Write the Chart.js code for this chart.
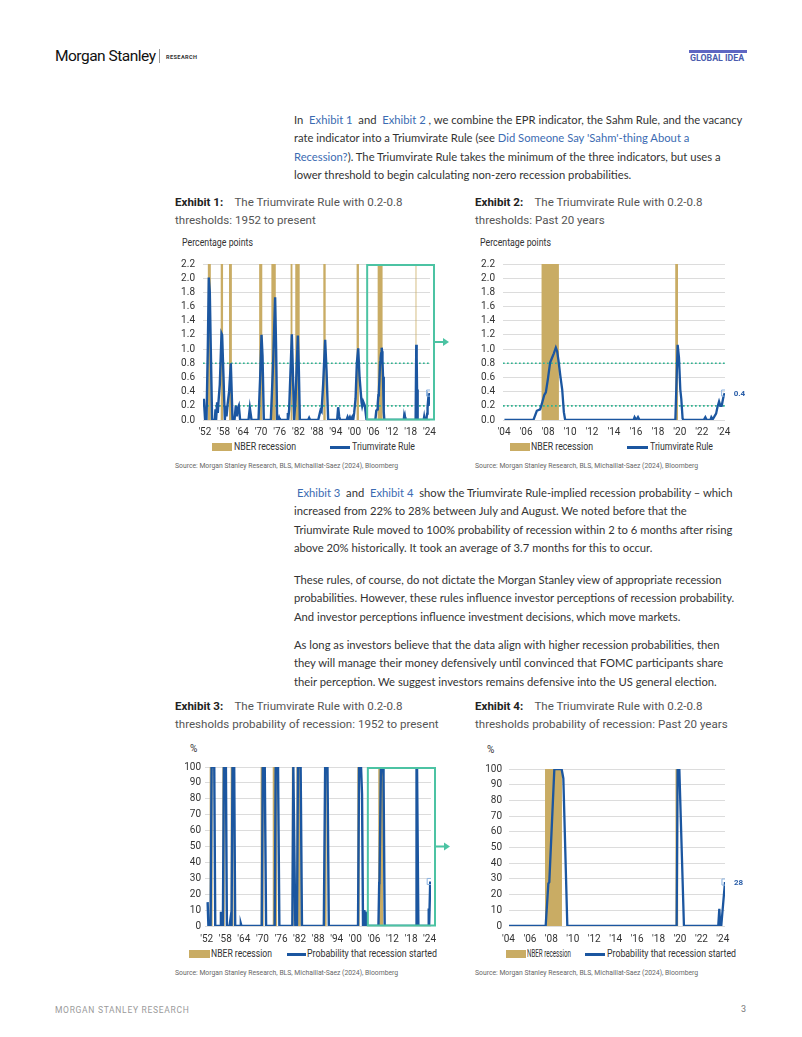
<!DOCTYPE html>
<html>
<head>
<meta charset="utf-8">
<script src="https://cdn.jsdelivr.net/npm/chart.js@4.4.1/dist/chart.umd.min.js"></script>
<style>
  body { margin: 0; width: 802px; height: 1037px; position: relative; overflow: hidden; background: #fff; color: #333; font-family: Lato, sans-serif; }
  .abs { position: absolute; white-space: nowrap; }
  .para { position: absolute; left: 294px; white-space: nowrap; font-family: Lato, sans-serif; font-size: 12px; line-height: 18.4px; color: #333; }
  .para a { color: #3b6bb2; text-decoration: none; }
  .title { position: absolute; white-space: nowrap; font-family: Roboto, sans-serif; font-size: 13px; line-height: 17.5px; color: #555; }
  .title b { color: #222; font-weight: 700; }
  .src { position: absolute; white-space: nowrap; font-family: Roboto, sans-serif; font-size: 6.8px; color: #666; }
  .ax { position: absolute; white-space: nowrap; font-family: Roboto, sans-serif; font-size: 10px; line-height: 12px; color: #333; transform-origin: 0 50%; }
  .key { position: absolute; }
  canvas { position: absolute; }
</style>
</head>
<body>

<!-- header -->
<div class="abs" style="left:55px; top:47px; font-family:Roboto; font-size:15.5px; letter-spacing:-0.5px; color:#111;">Morgan Stanley</div>
<div class="abs" style="left:159px; top:49px; width:1px; height:14px; background:#999;"></div>
<div class="abs" style="left:166px; top:54px; font-family:Roboto; font-size:5.6px; font-weight:700; letter-spacing:0.4px; color:#333;">RESEARCH</div>
<div class="abs" style="left:689px; top:50px; width:58px; height:2.5px; background:#5e66c2;"></div>
<div class="abs" style="left:690px; top:53px; font-family:Roboto; font-size:8.8px; font-weight:700; color:#4a5cae;">GLOBAL IDEA</div>

<!-- body text -->
<div class="para" style="top:110.8px;"><span id="refLine">In&nbsp; <a>Exhibit 1</a>&nbsp; and&nbsp; <a>Exhibit 2</a>&nbsp;, we combine the EPR indicator, the Sahm Rule, and the vacancy</span><br>rate indicator into a Triumvirate Rule (see <a>Did Someone Say 'Sahm'-thing About a</a><br><a>Recession?</a>). The Triumvirate Rule takes the minimum of the three indicators, but uses a<br>lower threshold to begin calculating non-zero recession probabilities.</div>

<div class="title" style="left:175px; top:194px;"><b>Exhibit 1:</b>&nbsp;&nbsp;&nbsp; The Triumvirate Rule with 0.2-0.8<br>thresholds: 1952 to present</div>
<div class="title" style="left:475px; top:194px;"><b>Exhibit 2:</b>&nbsp;&nbsp;&nbsp; The Triumvirate Rule with 0.2-0.8<br>thresholds: Past 20 years</div>

<div class="ax" data-w="71" style="left:182px; top:237px;">Percentage points</div>
<div class="ax" data-w="71" style="left:480px; top:237px;">Percentage points</div>

<canvas id="ruleLong" width="277" height="190" style="left:175px; top:250px;"></canvas>
<canvas id="ruleShort" width="277" height="190" style="left:475px; top:250px;"></canvas>

<div class="key" style="left:212px; top:443px; width:20px; height:8px; background:#c9ac64;"></div>
<div class="ax" data-w="62" style="left:234px; top:441px;">NBER recession</div>
<div class="key" style="left:330px; top:446px; width:20px; height:2.5px; background:#1b56a0;"></div>
<div class="ax" data-w="63" style="left:352px; top:441px;">Triumvirate Rule</div>

<div class="key" style="left:510px; top:443px; width:20px; height:8px; background:#c9ac64;"></div>
<div class="ax" data-w="62" style="left:531px; top:441px;">NBER recession</div>
<div class="key" style="left:627px; top:446px; width:21px; height:2.5px; background:#1b56a0;"></div>
<div class="ax" data-w="63" style="left:650px; top:441px;">Triumvirate Rule</div>

<div class="src" style="left:175px; top:462px;">Source: Morgan Stanley Research, BLS, Michaillat-Saez (2024), Bloomberg</div>
<div class="src" style="left:475px; top:462px;">Source: Morgan Stanley Research, BLS, Michaillat-Saez (2024), Bloomberg</div>

<div class="para" style="top:483.8px;">&nbsp;<a>Exhibit 3</a>&nbsp; and&nbsp; <a>Exhibit 4</a>&nbsp; show the Triumvirate Rule-implied recession probability – which<br>increased from 22% to 28% between July and August. We noted before that the<br>Triumvirate Rule moved to 100% probability of recession within 2 to 6 months after rising<br>above 20% historically. It took an average of 3.7 months for this to occur.</div>

<div class="para" style="top:570.8px;">These rules, of course, do not dictate the Morgan Stanley view of appropriate recession<br>probabilities. However, these rules influence investor perceptions of recession probability.<br>And investor perceptions influence investment decisions, which move markets.</div>

<div class="para" style="top:635.8px;">As long as investors believe that the data align with higher recession probabilities, then<br>they will manage their money defensively until convinced that FOMC participants share<br>their perception. We suggest investors remains defensive into the US general election.</div>

<div class="title" style="left:175px; top:698px;"><b>Exhibit 3:</b>&nbsp;&nbsp;&nbsp; The Triumvirate Rule with 0.2-0.8<br><span id="refTitle">thresholds probability of recession: 1952 to present</span></div>
<div class="title" style="left:475px; top:698px;"><b>Exhibit 4:</b>&nbsp;&nbsp;&nbsp; The Triumvirate Rule with 0.2-0.8<br>thresholds probability of recession: Past 20 years</div>

<div class="ax" style="left:190px; top:743px;">%</div>
<div class="ax" style="left:487px; top:744px;">%</div>

<canvas id="probLong" width="277" height="189" style="left:175px; top:757px;"></canvas>
<canvas id="probShort" width="277" height="190" style="left:475px; top:756px;"></canvas>

<div class="key" style="left:189px; top:950px; width:21px; height:8px; background:#c9ac64;"></div>
<div class="ax" data-w="61" style="left:211px; top:948px;">NBER recession</div>
<div class="key" style="left:287px; top:953px; width:19px; height:2.5px; background:#1b56a0;"></div>
<div class="ax" data-w="130" style="left:307px; top:948px;">Probability that recession started</div>

<div class="key" style="left:506px; top:950px; width:20px; height:8px; background:#c9ac64;"></div>
<div class="ax" data-w="44" style="left:527px; top:948px;">NBER recession</div>
<div class="key" style="left:585px; top:953px; width:20px; height:2.5px; background:#1b56a0;"></div>
<div class="ax" data-w="129" style="left:607px; top:948px;">Probability that recession started</div>

<div class="src" style="left:175px; top:969px;">Source: Morgan Stanley Research, BLS, Michaillat-Saez (2024), Bloomberg</div>
<div class="src" style="left:475px; top:969px;">Source: Morgan Stanley Research, BLS, Michaillat-Saez (2024), Bloomberg</div>

<!-- footer -->
<div class="abs" style="left:55px; top:1005px; font-family:Roboto; font-size:8.5px; letter-spacing:0.7px; color:#9a9a9a;">MORGAN STANLEY RESEARCH</div>
<div class="abs" style="left:741px; top:1004px; font-family:Roboto; font-size:9px; color:#777;">3</div>

<script>
// NBER recessions, [start, end] in decimal years
const RECESSIONS = [
  [1953.50, 1954.46], [1957.63, 1958.38], [1960.29, 1961.21], [1969.96, 1970.96],
  [1973.88, 1975.29], [1980.04, 1980.63], [1981.54, 1982.96], [1990.54, 1991.29],
  [2001.21, 2001.96], [2007.96, 2009.54], [2020.13, 2020.38]
];

// Triumvirate Rule, percentage points: [year, value]
const RULE_TO_2004 = [
  [1952.21, 0.30], [1952.63, 0], [1953.07, 0], [1953.49, 1.0], [1953.81, 2.01], [1954.13, 1.8],
  [1954.45, 1.0], [1954.87, 0], [1955.74, 0], [1955.96, 0.15], [1956.15, 0], [1956.48, 0.25],
  [1956.70, 0.1], [1956.92, 0.26], [1957.34, 0.5], [1957.89, 1.22], [1958.08, 1.2], [1958.53, 0.6],
  [1958.95, 0], [1959.27, 0.2], [1959.49, 0.05], [1959.81, 0.21], [1960.33, 0.4], [1960.87, 0.8],
  [1961.42, 0], [1962.06, 0], [1962.47, 0.2], [1962.80, 0.05], [1963.02, 0.15], [1963.44, 0.2],
  [1963.86, 0], [1966.55, 0], [1966.97, 0.17], [1967.51, 0], [1969.75, 0], [1970.28, 0.6],
  [1970.72, 1.2], [1971.04, 0.9], [1971.46, 0], [1973.70, 0], [1974.44, 0.8], [1975.08, 1.73],
  [1975.40, 1.0], [1975.72, 0], [1976.17, 0], [1976.36, 0.03], [1976.59, 0], [1978.93, 0],
  [1979.16, 0.1], [1979.38, 0.05], [1979.58, 0.15], [1980.44, 1.21], [1980.76, 0.7], [1981.18, 0],
  [1981.63, 0.3], [1982.37, 1.19], [1982.69, 0.7], [1983.01, 0], [1985.67, 0], [1985.99, 0.03],
  [1986.31, 0], [1988.90, 0], [1989.42, 0.1], [1989.65, 0.14], [1989.97, 0.12], [1990.48, 0.5],
  [1991.12, 1.13], [1991.56, 0.7], [1992.09, 0], [1994.97, 0], [1995.30, 0.18], [1995.62, 0.05],
  [1995.94, 0], [1998.00, 0], [1998.31, 0.04], [1998.63, 0], [1999.05, 0.04], [1999.37, 0],
  [1999.79, 0.04], [2000.11, 0], [2000.43, 0.1], [2000.88, 0.3], [2001.29, 0.8], [2001.72, 1.01],
  [2002.16, 0.6], [2002.80, 0.25], [2003.00, 0.2], [2003.31, 0.26], [2003.86, 0.2], [2004.40, 0]
];
const RULE_SINCE_2004 = [
  [2004.58, 0], [2007.22, 0], [2007.53, 0.13], [2007.83, 0.15], [2007.99, 0.23], [2008.20, 0.35],
  [2008.35, 0.39], [2008.53, 0.57], [2008.74, 0.81], [2008.90, 0.87], [2009.08, 0.94], [2009.26, 1.02],
  [2009.38, 0.97], [2009.50, 0.84], [2009.68, 0.61], [2009.84, 0.43], [2009.99, 0.11], [2010.11, 0],
  [2016.34, 0], [2016.43, 0.04], [2016.58, 0], [2016.74, 0.04], [2016.88, 0], [2020.14, 0],
  [2020.35, 1.06], [2020.47, 0.88], [2020.59, 0.43], [2020.68, 0.30], [2020.80, 0.02], [2020.89, 0],
  [2022.72, 0], [2022.87, 0.04], [2023.00, 0], [2023.33, 0], [2023.42, 0.04], [2023.54, 0.01],
  [2023.66, 0.04], [2023.85, 0.09], [2023.97, 0.18], [2024.12, 0.26], [2024.24, 0.2], [2024.36, 0.2],
  [2024.51, 0.32], [2024.63, 0.38]
];

// Probability that recession started, %: [year, value]
const PROB_TO_2004 = [
  [1952.85, 15], [1953.10, 0], [1953.81, 0], [1954.13, 100], [1954.99, 100], [1955.31, 0],
  [1956.92, 0], [1957.14, 9], [1957.46, 0], [1957.78, 0], [1958.10, 100], [1958.75, 100],
  [1959.07, 0], [1959.93, 0], [1960.14, 3], [1960.25, 0], [1960.36, 2], [1960.57, 0],
  [1960.89, 100], [1961.43, 100], [1961.75, 0], [1963.36, 0], [1963.58, 1.5], [1963.79, 0],
  [1970.34, 0], [1970.66, 100], [1971.30, 100], [1971.73, 0], [1974.52, 0], [1974.84, 100],
  [1975.59, 100], [1976.02, 0], [1980.21, 0], [1980.53, 100], [1980.74, 100], [1981.17, 0],
  [1981.71, 0], [1982.03, 100], [1982.89, 100], [1983.32, 0], [1990.38, 0], [1990.81, 100],
  [1991.56, 100], [1991.99, 0], [2001.43, 0], [2001.76, 100], [2002.40, 100], [2002.72, 83],
  [2003.04, 0], [2003.37, 0], [2003.47, 10], [2003.69, 2], [2003.90, 9], [2004.22, 0]
];
const PROB_SINCE_2004 = [
  [2004.60, 0], [2008.02, 0], [2008.27, 27], [2008.36, 28], [2008.83, 100], [2009.51, 100],
  [2009.67, 94], [2010.04, 0], [2020.24, 0], [2020.33, 100], [2020.49, 100], [2020.92, 0],
  [2024.12, 0], [2024.22, 11], [2024.31, 0], [2024.40, 0], [2024.75, 28]
];

const THRESHOLDS = [0.2, 0.8];
const LONG_TICKS = [1952, 1958, 1964, 1970, 1976, 1982, 1988, 1994, 2000, 2006, 2012, 2018, 2024];
const SHORT_TICKS = [2004, 2006, 2008, 2010, 2012, 2014, 2016, 2018, 2020, 2022, 2024];
const RULE_Y_TICKS = [0, 0.2, 0.4, 0.6, 0.8, 1.0, 1.2, 1.4, 1.6, 1.8, 2.0, 2.2];
const PROB_Y_TICKS = [0, 10, 20, 30, 40, 50, 60, 70, 80, 90, 100];
const ZOOM_FROM = 2004.6;

const BLUE = '#1b56a0';
const TAN = '#c9ac64';
const TEAL = '#4cc3a3';
const DOTS = '#2fb391';
const GRID = '#dcdcdc';
const TICK_FONT = { family: 'Roboto, sans-serif', size: 10 };

// fit the body copy, titles and small labels to the widths on the page
(function fitText() {
  const body = document.getElementById('refLine').getBoundingClientRect().width;
  const fs = 12 * 449 / body;
  document.querySelectorAll('.para').forEach(p => p.style.fontSize = fs + 'px');
  const t = document.getElementById('refTitle').getBoundingClientRect().width;
  const ts = 13 * 264 / t;
  document.querySelectorAll('.title').forEach(p => p.style.fontSize = ts + 'px');
  document.querySelectorAll('.ax[data-w]').forEach(el => {
    const w = el.getBoundingClientRect().width;
    el.style.transform = 'scaleX(' + (Number(el.dataset.w) / w) + ')';
  });
})();

const toPoints = (rows) => rows.map(([x, y]) => ({ x: x, y: y }));

function bandsPlugin(ranges) {
    return {
        id: 'bands',
        beforeDatasetsDraw(chart) {
            const { ctx, chartArea, scales: { x } } = chart;
            ctx.save();
            ctx.fillStyle = TAN;
            ranges.forEach(([a, b]) => {
                const l = Math.max(x.getPixelForValue(a), chartArea.left);
                const r = Math.min(x.getPixelForValue(b), chartArea.right);
                if (r > l) ctx.fillRect(l, chartArea.top, r - l, chartArea.bottom - chartArea.top);
            });
            ctx.restore();
        }
    };
}

const zoomBoxPlugin = {
    id: 'zoomBox',
    afterDatasetsDraw(chart) {
        const { ctx, chartArea, scales: { x } } = chart;
        const l = x.getPixelForValue(ZOOM_FROM);
        const r = chartArea.right + 4;
        const midY = (chartArea.top + chartArea.bottom) / 2;
        ctx.save();
        ctx.strokeStyle = TEAL;
        ctx.lineWidth = 2;
        ctx.strokeRect(l, chartArea.top + 1, r - l, chartArea.bottom - chartArea.top - 1.5);
        ctx.beginPath();
        ctx.moveTo(r + 1, midY);
        ctx.lineTo(r + 10, midY);
        ctx.stroke();
        ctx.fillStyle = TEAL;
        ctx.beginPath();
        ctx.moveTo(r + 15, midY);
        ctx.lineTo(r + 9, midY - 4);
        ctx.lineTo(r + 9, midY + 4);
        ctx.closePath();
        ctx.fill();
        ctx.restore();
    }
};

function lastLabelPlugin(format) {
    return {
        id: 'lastLabel',
        afterDatasetsDraw(chart) {
            const meta = chart.getDatasetMeta(0);
            const pt = meta.data[meta.data.length - 1];
            const ds = chart.data.datasets[0].data;
            const ctx = chart.ctx;
            ctx.save();
            ctx.font = 'bold 8px Roboto, sans-serif';
            ctx.fillStyle = '#2a5ea8';
            ctx.textBaseline = 'middle';
            ctx.fillText(format(ds[ds.length - 1].y), pt.x + 9, pt.y + 1);
            ctx.restore();
        }
    };
}

function renderChart(id, cfg) {
    const ctx = document.getElementById(id).getContext('2d');
    const datasets = [{
        data: toPoints(cfg.series),
        borderColor: BLUE,
        borderWidth: cfg.lineWidth,
        tension: 0,
        pointStyle: 'rect',
        pointRadius: (c) => c.dataIndex === c.dataset.data.length - 1 ? 4.3 : 0,
        pointBorderColor: '#8cb3e0',
        pointBackgroundColor: 'rgba(255,255,255,0)',
        pointBorderWidth: 1
    }];
    (cfg.thresholds || []).forEach(t => {
        datasets.push({
            data: [{ x: cfg.xMin, y: t }, { x: cfg.xMax, y: t }],
            borderColor: DOTS,
            borderWidth: 1.7,
            borderDash: [1.7, 2.3],
            pointRadius: 0
        });
    });

    const plugins = [bandsPlugin(RECESSIONS)];
    if (cfg.zoomBox) plugins.push(zoomBoxPlugin);
    if (cfg.lastLabel) plugins.push(lastLabelPlugin(cfg.lastLabel));

    return new Chart(ctx, {
        type: 'line',
        data: { datasets: datasets },
        options: {
            responsive: false,
            animation: false,
            devicePixelRatio: 1,
            layout: { padding: { top: 7, right: cfg.padRight, left: 0, bottom: 0 } },
            plugins: { legend: { display: false }, tooltip: { enabled: false } },
            scales: {
                x: {
                    type: 'linear',
                    min: cfg.xMin,
                    max: cfg.xMax,
                    afterBuildTicks: (axis) => { axis.ticks = cfg.xTicks.map(v => ({ value: v + 0.55 })); },
                    ticks: {
                        autoSkip: false,
                        maxRotation: 0,
                        padding: cfg.xPad,
                        color: '#333',
                        font: TICK_FONT,
                        callback: (v) => "'" + String(Math.floor(v)).slice(2)
                    },
                    grid: { display: false, drawTicks: false },
                    border: { display: false },
                    afterFit: (s) => { s.height = 20; }
                },
                y: {
                    min: cfg.yTicks[0],
                    max: cfg.yTicks[cfg.yTicks.length - 1],
                    afterBuildTicks: (axis) => { axis.ticks = cfg.yTicks.map(v => ({ value: v })); },
                    ticks: {
                        autoSkip: false,
                        padding: cfg.yPad,
                        color: '#333',
                        font: TICK_FONT,
                        callback: cfg.yFormat
                    },
                    grid: { color: GRID, lineWidth: 1, drawTicks: false },
                    border: { display: false },
                    afterFit: (s) => { s.width = cfg.yWidth; }
                }
            }
        },
        plugins: plugins
    });
}

renderChart('ruleLong', {
    series: RULE_TO_2004.concat(RULE_SINCE_2004),
    thresholds: THRESHOLDS,
    xMin: 1951.95, xMax: 2024.75, xTicks: LONG_TICKS,
    yTicks: RULE_Y_TICKS, yFormat: (v) => v.toFixed(1),
    yWidth: 28, yPad: 8, xPad: 6, padRight: 22, lineWidth: 2.4,
    zoomBox: true
});

renderChart('ruleShort', {
    series: RULE_SINCE_2004,
    thresholds: THRESHOLDS,
    xMin: 2004.45, xMax: 2024.66, xTicks: SHORT_TICKS,
    yTicks: RULE_Y_TICKS, yFormat: (v) => v.toFixed(1),
    yWidth: 28, yPad: 8, xPad: 6, padRight: 27, lineWidth: 2.3,
    lastLabel: (v) => v.toFixed(1)
});

renderChart('probLong', {
    series: PROB_TO_2004.concat(PROB_SINCE_2004),
    xMin: 1952.0, xMax: 2025.0, xTicks: LONG_TICKS,
    yTicks: PROB_Y_TICKS, yFormat: (v) => String(v),
    yWidth: 30, yPad: 4, xPad: 7, padRight: 21, lineWidth: 2.4,
    zoomBox: true
});

renderChart('probShort', {
    series: PROB_SINCE_2004,
    xMin: 2004.6, xMax: 2024.75, xTicks: SHORT_TICKS,
    yTicks: PROB_Y_TICKS, yFormat: (v) => String(v),
    yWidth: 34, yPad: 7, xPad: 7, padRight: 27, lineWidth: 2.3,
    lastLabel: (v) => v.toFixed(0)
});
</script>
</body>
</html>
